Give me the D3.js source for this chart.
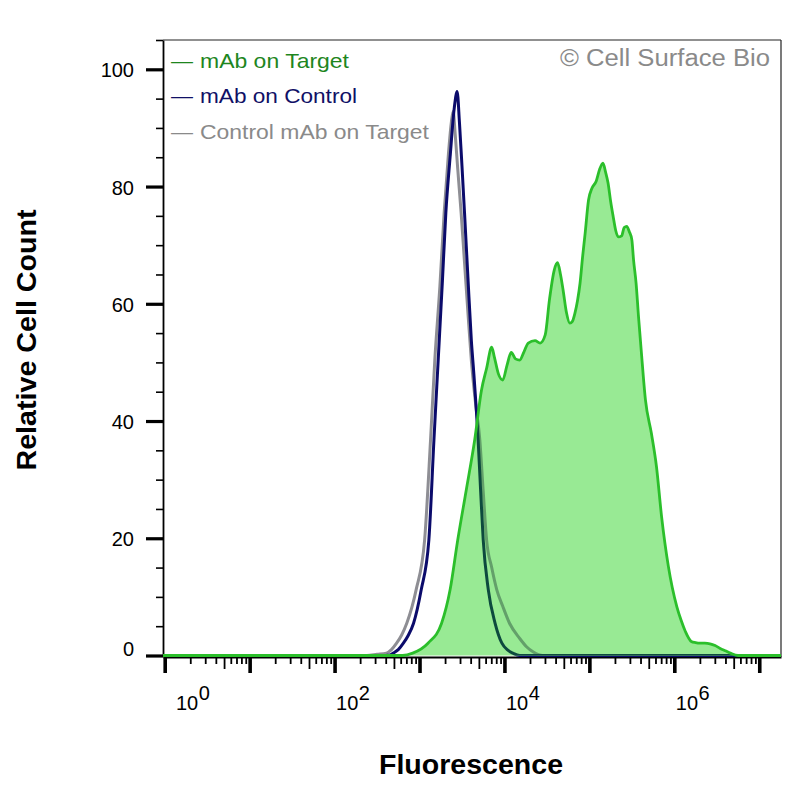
<!DOCTYPE html>
<html><head><meta charset="utf-8">
<script src="https://cdn.jsdelivr.net/npm/d3@7"></script>
<style>body{margin:0;background:#fff}svg{display:block}</style>
</head><body>
<svg id="chart" width="800" height="800"></svg>
<script>
// ---- data (log10 fluorescence, relative cell count) ----
const targetLog = [-0.02,2.80,2.92,3.10,3.26,3.36,3.45,3.55,3.65,3.73,3.79,3.85,3.88,3.93,3.98,4.03,4.08,4.13,4.18,4.23,4.28,4.36,4.42,4.48,4.53,4.587,4.625,4.66,4.69,4.73,4.77,4.80,4.83,4.86,4.89,4.92,4.95,4.99,5.03,5.08,5.12,5.16,5.19,5.22,5.25,5.28,5.31,5.34,5.38,5.41,5.44,5.47,5.50,5.52,5.55,5.58,5.61,5.66,5.73,5.79,5.85,5.93,6.03,6.08,6.13,6.20,6.25,6.30,6.36,6.42,6.48,6.54,6.60,6.66,6.75,7.256];
const targetCount = [0,0,0.4,2.1,5.5,11.2,19.7,28.2,36.8,45.3,49,52.6,51,48,47,49.5,51.7,50.6,50.4,51.8,53.3,53.7,53.3,54.7,60.7,65.8,67.0,65,62.4,58.5,56.7,57,58.4,60.5,63.5,68,72.0,77.7,79.7,80.9,82.9,84.0,82.5,80.6,77.5,74.9,72.5,71.4,71.6,73,73.2,72.3,70.9,67.5,63.5,57.5,52.1,43.6,37.9,32.2,23.7,15.2,8.3,6,4.1,2.4,2.2,2.1,2.1,2.0,1.7,1.2,0.8,0.4,0,0];

const controlLog = [-0.02,2.55,2.65,2.69,2.75,2.81,2.87,2.93,3.02,3.11,3.17,3.22,3.27,3.31,3.36,3.41,3.443,3.47,3.50,3.53,3.57,3.61,3.64,3.69,3.72,3.75,3.81,3.89,3.97,4.04,4.10,4.18,7.256];
const controlCount = [0,0,0.1,0.4,1.0,2.1,3.5,5.5,11.2,19.7,36.8,50.4,64,75.5,85,93.5,96.2,91,83.5,75.5,64.5,53.8,48,36.8,28,19.7,11.2,5.5,2.1,0.9,0.4,0,0];

const isoLog = [-0.02,2.38,2.50,2.61,2.67,2.73,2.79,2.85,2.96,3.06,3.13,3.18,3.24,3.29,3.34,3.375,3.396,3.42,3.45,3.49,3.53,3.57,3.61,3.66,3.71,3.75,3.79,3.85,3.91,3.98,4.06,4.18,4.26,4.34,4.45,7.256];
const isoCount = [0,0,0.2,0.4,1.0,2.1,3.5,5.5,11.2,19.7,36.8,50.4,63,75.5,85.5,91,92.8,89,83,75.5,67,58.5,50.4,43,36.8,28,19.7,15,11.2,8.4,5.5,2.9,1.5,0.6,0,0];

const seriesNames = ["mAb on Target","mAb on Control","Control mAb on Target"];
const yTickValues = [0,20,40,60,80,100];
const xTickExponents = [0,2,4,6];
const xTitle = "Fluorescence";
const yTitle = "Relative Cell Count";
const credit = "\u00A9 Cell Surface Bio";

// ---- layout ----
const L = 163, R = 781, T = 40, B = 655.5, AX = 657;
const svg = d3.select("#chart");
const x = d3.scaleLog().domain([Math.pow(10,-0.02), Math.pow(10,7.256)]).range([L, R]);
const y = d3.scaleLinear().domain([0,105]).range([B, T]);
const font = "'Liberation Sans', Arial, Helvetica, sans-serif";

const zipS = (a,b) => a.map((v,i)=>[Math.pow(10,v), b[i]]);
const target = zipS(targetLog, targetCount);
const control = zipS(controlLog, controlCount);
const iso = zipS(isoLog, isoCount);

const line = d3.line().x(d=>x(d[0])).y(d=>y(d[1])).curve(d3.curveMonotoneX);
const area = d3.area().x(d=>x(d[0])).y0(y(0)).y1(d=>y(d[1])).curve(d3.curveMonotoneX);

svg.append("defs").append("clipPath").attr("id","gclip")
  .append("path").attr("d", area(target));

// frame
svg.append("line").attr("x1",L).attr("x2",R).attr("y1",T).attr("y2",T).attr("stroke","#222").attr("stroke-width",1.2);
svg.append("line").attr("x1",R).attr("x2",R).attr("y1",T).attr("y2",AX).attr("stroke","#222").attr("stroke-width",1.2);

// y axis
const yMinor = d3.range(0,106,5);
const gyMinor = svg.append("g").attr("transform",`translate(${L},0)`)
  .call(d3.axisLeft(y).tickValues(yMinor).tickSize(7).tickSizeOuter(0).tickFormat(""));
gyMinor.selectAll("line").attr("stroke","#000").attr("stroke-width",1.6);
gyMinor.select(".domain").attr("stroke","#000").attr("stroke-width",1.8);
const gyMajor = svg.append("g").attr("transform",`translate(${L},0)`)
  .call(d3.axisLeft(y).tickValues(yTickValues).tickSize(17).tickPadding(12).tickSizeOuter(0));
gyMajor.select(".domain").remove();
gyMajor.selectAll("line").attr("stroke","#000").attr("stroke-width",3.2);
gyMajor.selectAll("text").attr("font-family",font).attr("font-size",20).attr("fill","#000")
  .attr("dy", d => d===0 ? "0.0em" : "0.38em");

// x axis
const xMinor = [], xMid = [];
for (let k=0;k<=7;k++) for (let m=2;m<=9;m++){ const v=m*Math.pow(10,k); if (v<=x.domain()[1]) (m===5?xMid:xMinor).push(v); }
const xMajor = d3.range(0,8).map(k=>Math.pow(10,k));
const gxMinor = svg.append("g").attr("transform",`translate(0,${AX})`)
  .call(d3.axisBottom(x).tickValues(xMinor).tickSize(7).tickSizeOuter(0).tickFormat(""));
gxMinor.selectAll("line").attr("stroke","#000").attr("stroke-width",1.8);
gxMinor.select(".domain").attr("stroke","#000").attr("stroke-width",2);
const gxMid = svg.append("g").attr("transform",`translate(0,${AX})`)
  .call(d3.axisBottom(x).tickValues(xMid).tickSize(12).tickSizeOuter(0).tickFormat(""));
gxMid.select(".domain").remove();
gxMid.selectAll("line").attr("stroke","#000").attr("stroke-width",1.8);
const gxMajor = svg.append("g").attr("transform",`translate(0,${AX})`)
  .call(d3.axisBottom(x).tickValues(xMajor).tickSize(16).tickSizeOuter(0).tickFormat(""));
gxMajor.select(".domain").remove();
gxMajor.selectAll("line").attr("stroke","#000").attr("stroke-width",3.6);

// x tick labels 10^n
xTickExponents.forEach(e=>{
  const px = Math.max(x(Math.pow(10,e))+1.5, L+13);
  const t = svg.append("text").attr("x",px).attr("y",710)
    .attr("font-family",font).attr("font-size",20).attr("fill","#000");
  t.append("tspan").text("10");
  t.append("tspan").attr("dy",-10).attr("dx",0.5).text(String(e));
});

// curves
svg.append("path").attr("d",line(iso)).attr("fill","none").attr("stroke","#8e8e94").attr("stroke-width",3).attr("stroke-linejoin","round");
svg.append("path").attr("d",line(control)).attr("fill","none").attr("stroke","#0b0b6b").attr("stroke-width",3).attr("stroke-linejoin","round");
svg.append("path").attr("d",area(target)).attr("fill","#98ea94");
svg.append("path").attr("d",line(iso)).attr("clip-path","url(#gclip)").attr("fill","none").attr("stroke","#63a06a").attr("stroke-width",3).attr("stroke-linejoin","round");
svg.append("path").attr("d",line(control)).attr("clip-path","url(#gclip)").attr("fill","none").attr("stroke","#0d4a3e").attr("stroke-width",3).attr("stroke-linejoin","round");
svg.append("path").attr("d",line(target)).attr("fill","none").attr("stroke","#2bbf2b").attr("stroke-width",2.8).attr("stroke-linejoin","round");

// legend
const legendColors = ["#1e861e","#101066","#8a8a8a"];
const legendWidths = [149,157,229];
seriesNames.forEach((n,i)=>{
  const by = 67.5 + i*35.5;
  svg.append("text").attr("x",171).attr("y",by).attr("font-family",font).attr("font-size",20)
    .attr("fill",legendColors[i]).attr("textLength",22).attr("lengthAdjust","spacingAndGlyphs").text("\u2014");
  svg.append("text").attr("x",200).attr("y",by).attr("font-family",font).attr("font-size",21)
    .attr("fill",legendColors[i]).attr("textLength",legendWidths[i]).attr("lengthAdjust","spacingAndGlyphs").text(n);
});

// credit
svg.append("text").attr("x",560).attr("y",66).attr("font-family",font).attr("font-size",23)
  .attr("fill","#8a8a8a").attr("textLength",210).attr("lengthAdjust","spacingAndGlyphs").text(credit);

// axis titles
svg.append("text").attr("x",379).attr("y",774).attr("font-family",font).attr("font-size",27)
  .attr("font-weight","bold").attr("fill","#000").attr("textLength",184).attr("lengthAdjust","spacingAndGlyphs").text(xTitle);
svg.append("text").attr("transform","translate(36,470.5) rotate(-90)").attr("font-family",font).attr("font-size",27)
  .attr("font-weight","bold").attr("fill","#000").attr("textLength",261).attr("lengthAdjust","spacingAndGlyphs").text(yTitle);
</script>
</body></html>
